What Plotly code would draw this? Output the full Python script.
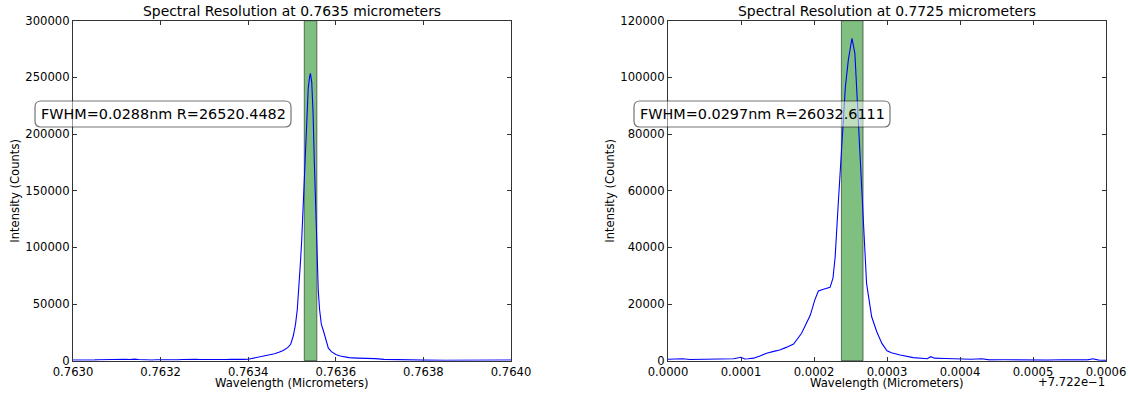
import plotly.graph_objects as go

# ---------------- data ----------------
# Line at 0.7635 um
wl_a = [0.763000, 0.763010, 0.763020, 0.763030, 0.763040, 0.763050, 0.763060, 0.763070,
        0.763080, 0.763090, 0.763100, 0.763110, 0.763120, 0.763130, 0.763140, 0.763150,
        0.763160, 0.763170, 0.763180, 0.763190, 0.763200, 0.763210, 0.763220, 0.763230,
        0.763240, 0.763250, 0.763260, 0.763270, 0.763280, 0.763290, 0.763300, 0.763310,
        0.763320, 0.763330, 0.763340, 0.763350, 0.763360, 0.763370, 0.763380, 0.763390,
        0.763400, 0.763410, 0.763420, 0.763430, 0.763440, 0.763450, 0.763460, 0.763470,
        0.763480, 0.763490, 0.763497, 0.763503, 0.763508, 0.763512, 0.763516, 0.763519,
        0.763522, 0.763525, 0.763528, 0.763531, 0.763534, 0.763537, 0.763540, 0.763542,
        0.763545, 0.763548, 0.763551, 0.763554, 0.763557, 0.763560, 0.763563, 0.763567,
        0.763572, 0.763577, 0.763583, 0.763590, 0.763600, 0.763610, 0.763620, 0.763630,
        0.763650, 0.763670, 0.763690, 0.763710, 0.763730, 0.763760, 0.763800, 0.763850,
        0.763900, 0.763950, 0.764000]
counts_a = [600, 500, 700, 500, 800, 700, 900, 1000,
            1300, 1200, 1500, 1200, 1300, 1100, 1400, 1000,
            800, 700, 600, 900, 800, 1000, 1200, 1100,
            900, 1000, 1200, 1100, 1300, 1100, 1000, 900,
            1000, 1100, 900, 1000, 1200, 1000, 1100, 1200,
            1300, 2000, 3200, 3800, 4300, 5000, 6200, 7400,
            9000, 11500, 14500, 22000, 32000, 45000, 65000, 85000,
            105000, 132000, 160000, 185000, 218000, 240000, 250000, 253500,
            246000, 220000, 175000, 130000, 95000, 62000, 45000, 32000,
            26000, 18000, 11000, 8000, 5500, 4200, 3300, 2700,
            2300, 2200, 1800, 1200, 900, 700, 500, 400,
            500, 400, 600]

# Line at 0.7725 um (wavelengths given relative to 0.7722 um)
base_b = 0.7722
dwl_b = [0.000000, 0.000010, 0.000020, 0.000030, 0.000040, 0.000050, 0.000060, 0.000070,
         0.000080, 0.000090, 0.000100, 0.000105, 0.000110, 0.000117, 0.000125, 0.000135,
         0.000145, 0.000153, 0.000162, 0.000172, 0.000183, 0.000195, 0.000201, 0.000206,
         0.000213, 0.000222, 0.000226, 0.000229, 0.000233, 0.000238, 0.000243, 0.000247,
         0.000252, 0.000256, 0.000259, 0.000263, 0.000268, 0.000272, 0.000279, 0.000286,
         0.000293, 0.000300, 0.000306, 0.000318, 0.000336, 0.000345, 0.000355, 0.000360,
         0.000365, 0.000380, 0.000400, 0.000415, 0.000430, 0.000440, 0.000460, 0.000480,
         0.000500, 0.000520, 0.000540, 0.000560, 0.000575, 0.000582, 0.000590, 0.000600]
counts_b = [500, 600, 700, 400, 450, 400, 450, 500,
            450, 700, 1200, 600, 700, 900, 1600, 2600,
            3300, 3800, 4700, 5900, 9700, 16100, 21400, 24600,
            25200, 25900, 29100, 36700, 54400, 75500, 96700, 106100,
            113800, 108500, 93200, 72000, 46100, 27300, 15500, 10200,
            6100, 3500, 2800, 2000, 1100, 1000, 700, 1400,
            900, 800, 500, 500, 700, 300, 350, 250,
            300, 200, 350, 250, 300, 700, 200, 100]

# FWHM windows (um) and resolving power
band_a = [0.763528, 0.7635568]
band_b = [0.7724375, 0.7724672]
label_a = "FWHM=0.0288nm R=26520.4482"
label_b = "FWHM=0.0297nm R=26032.6111"
title_a = "Spectral Resolution at 0.7635 micrometers"
title_b = "Spectral Resolution at 0.7725 micrometers"

xticks_a = [0.7630, 0.7632, 0.7634, 0.7636, 0.7638, 0.7640]
yticks_a = [0, 50000, 100000, 150000, 200000, 250000, 300000]
xticks_b_rel = [0.0000, 0.0001, 0.0002, 0.0003, 0.0004, 0.0005, 0.0006]
yticks_b = [0, 20000, 40000, 60000, 80000, 100000, 120000]

# ---------------- figure ----------------
W, H = 1130, 393
FONT = "DejaVu Sans"
TICK_SIZE = 11.6


def px_x(p):
    return p / W


def px_y(p):
    return 1 - p / H


wl_b = [base_b + d for d in dwl_b]
xticks_b = [base_b + d for d in xticks_b_rel]

fig = go.Figure()
fig.add_trace(go.Scatter(x=wl_a, y=counts_a, mode="lines",
                         line=dict(color="#0000ff", width=1.1),
                         xaxis="x", yaxis="y", showlegend=False))
fig.add_trace(go.Scatter(x=wl_b, y=counts_b, mode="lines",
                         line=dict(color="#0000ff", width=1.1),
                         xaxis="x2", yaxis="y2", showlegend=False))

axis_common = dict(showline=True, linecolor="#333333", linewidth=1.2, mirror="allticks",
                   ticks="inside", ticklen=4, tickcolor="#333333", tickwidth=1,
                   showgrid=False, zeroline=False, automargin=False,
                   tickfont=dict(family=FONT, size=TICK_SIZE, color="black"))

fig.update_layout(
    width=W, height=H,
    margin=dict(l=0, r=0, t=0, b=0, autoexpand=False),
    paper_bgcolor="white", plot_bgcolor="white",
    xaxis=dict(domain=[px_x(73), px_x(511)], range=[xticks_a[0], xticks_a[-1]],
               tickvals=xticks_a, ticktext=[f"{v:.4f}" for v in xticks_a],
               anchor="y", **axis_common),
    yaxis=dict(domain=[px_y(360.7), px_y(20.7)], range=[yticks_a[0], yticks_a[-1]],
               tickvals=yticks_a, ticktext=[str(v) for v in yticks_a],
               anchor="x", **axis_common),
    xaxis2=dict(domain=[px_x(668), px_x(1106)], range=[xticks_b[0], xticks_b[-1]],
                tickvals=xticks_b, ticktext=[f"{v:.4f}" for v in xticks_b_rel],
                anchor="y2", **axis_common),
    yaxis2=dict(domain=[px_y(360.7), px_y(20.7)], range=[yticks_b[0], yticks_b[-1]],
                tickvals=yticks_b, ticktext=[str(v) for v in yticks_b],
                anchor="x2", **axis_common),
)

# FWHM spans
for xr, (b0, b1) in (("x", band_a), ("x2", band_b)):
    yr = "y" if xr == "x" else "y2"
    fig.add_shape(type="rect", xref=xr, yref=f"{yr} domain", x0=b0, x1=b1, y0=0, y1=1,
                  fillcolor="rgba(0,128,0,0.5)", line=dict(color="rgba(0,0,0,0.5)", width=1),
                  layer="below")


def rounded_box(x0, x1, y0, y1, r):
    X, Y = px_x, px_y
    return (f"M {X(x0 + r)},{Y(y0)} L {X(x1 - r)},{Y(y0)} Q {X(x1)},{Y(y0)} {X(x1)},{Y(y0 + r)} "
            f"L {X(x1)},{Y(y1 - r)} Q {X(x1)},{Y(y1)} {X(x1 - r)},{Y(y1)} "
            f"L {X(x0 + r)},{Y(y1)} Q {X(x0)},{Y(y1)} {X(x0)},{Y(y1 - r)} "
            f"L {X(x0)},{Y(y0 + r)} Q {X(x0)},{Y(y0)} {X(x0 + r)},{Y(y0)} Z")


# label boxes
for (bx0, bx1), text in (((35, 291), label_a), ((634, 890), label_b)):
    fig.add_shape(type="path", xref="paper", yref="paper",
                  path=rounded_box(bx0, bx1, 101, 127, 6),
                  fillcolor="rgba(255,255,255,0.5)",
                  line=dict(color="rgba(0,0,0,0.55)", width=1.2), layer="above")
    fig.add_annotation(x=px_x((bx0 + bx1) / 2), y=px_y(114), xref="paper", yref="paper",
                       text=text, showarrow=False, xanchor="center", yanchor="middle",
                       font=dict(family=FONT, size=14.4, color="black"))

# titles and axis labels
for cx, title in ((292, title_a), (887, title_b)):
    fig.add_annotation(x=px_x(cx), y=px_y(11), xref="paper", yref="paper", text=title,
                       showarrow=False, xanchor="center", yanchor="middle",
                       font=dict(family=FONT, size=13.9, color="black"))
    fig.add_annotation(x=px_x(cx), y=px_y(383), xref="paper", yref="paper",
                       text="Wavelength (Micrometers)", showarrow=False,
                       xanchor="center", yanchor="middle",
                       font=dict(family=FONT, size=TICK_SIZE, color="black"))

for cx in (15, 610):
    fig.add_annotation(x=px_x(cx), y=px_y(190.7), xref="paper", yref="paper",
                       text="Intensity (Counts)", textangle=-90, showarrow=False,
                       xanchor="center", yanchor="middle",
                       font=dict(family=FONT, size=TICK_SIZE, color="black"))

# axis offset for the second panel
fig.add_annotation(x=px_x(1107), y=px_y(382), xref="paper", yref="paper",
                   text="+7.722e\u22121", showarrow=False, xanchor="right", yanchor="middle",
                   font=dict(family=FONT, size=TICK_SIZE, color="black"))

fig.write_html("out.html")
